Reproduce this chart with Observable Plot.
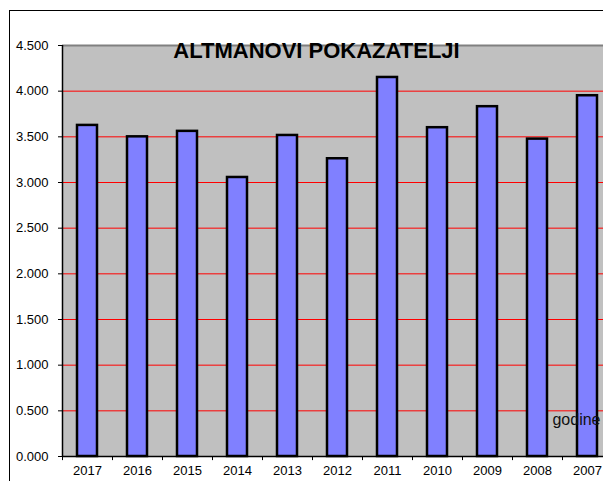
<!DOCTYPE html>
<html>
<head>
<meta charset="utf-8">
<script src="https://cdn.jsdelivr.net/npm/d3@7"></script>
<script src="https://cdn.jsdelivr.net/npm/@observablehq/plot@0.6"></script>
<style>
  html, body { margin: 0; padding: 0; background: #fff; }
  #wrap { position: relative; width: 603px; height: 481px; overflow: hidden; }
  #border { position: absolute; left: 9px; top: 10px; width: 700px; height: 600px;
            border-left: 1.5px solid #000; border-top: 1.5px solid #000; pointer-events: none; }
  svg { font-family: "Liberation Sans", Arial, sans-serif; }
</style>
</head>
<body>
<div id="wrap"><div id="border"></div></div>
<script>
const years  = ["2017","2016","2015","2014","2013","2012","2011","2010","2009","2008","2007"];
const values = [3.625, 3.50, 3.56, 3.055, 3.515, 3.26, 4.15, 3.60, 3.83, 3.475, 3.95];
const yTicks = [0, 0.5, 1, 1.5, 2, 2.5, 3, 3.5, 4, 4.5];
const gridLines = [0.5, 1, 1.5, 2, 2.5, 3, 3.5, 4];
const titleText = "ALTMANOVI POKAZATELJI";
const xLabel = "godine";

const data = years.map((y, i) => ({year: y, value: values[i]}));

const chart = Plot.plot({
  width: 603,
  height: 481,
  marginLeft: 62,
  marginTop: 45,
  marginBottom: 25,
  marginRight: 0,
  style: {fontFamily: "'Liberation Sans', Arial, sans-serif", fontSize: "13px", color: "#000", background: "transparent", overflow: "visible"},
  x: {domain: years, range: [62, 612], paddingInner: 0.6, paddingOuter: 0.3, label: null},
  y: {domain: [0, 4.5], range: [456, 45], label: null},
  marks: [
    Plot.frame({fill: "#c0c0c0", stroke: null}),
    Plot.ruleY(gridLines, {stroke: "#ff0000", strokeWidth: 1}),
    Plot.ruleY([4.5], {stroke: "#808080", strokeWidth: 2}),
    Plot.axisY({ticks: yTicks, tickFormat: d => d.toFixed(3), tickSize: 4, tickPadding: 10,
                stroke: "#000", fontSize: 13, letterSpacing: 0.5}),
    Plot.axisX({tickSize: 0, tickPadding: 9, fontSize: 13, letterSpacing: 0.5}),
    Plot.ruleX(years, {x: d => d, dx: -25, y1: 0, y2: -0.045, stroke: "#000", strokeWidth: 1}),
    Plot.barY(data, {x: "year", y: "value", fill: "#8080ff", stroke: "#000", strokeWidth: 2.5}),
    Plot.ruleY([0], {stroke: "#000", strokeWidth: 1.5}),
    Plot.ruleX([years[0]], {x: d => d, dx: -25, y1: 0, y2: 4.5, stroke: "#000", strokeWidth: 1.5}),
    Plot.text([titleText], {frameAnchor: "top", dx: -16.5, dy: 5.5, text: d => d, fontSize: 22,
               fontWeight: "bold", fill: "#000", lineAnchor: "middle", letterSpacing: 0.8}),
    Plot.text([xLabel], {frameAnchor: "bottom-right", dx: -3, dy: -36.5, text: d => d, fontSize: 16,
               textAnchor: "end", lineAnchor: "middle", fill: "#111"})
  ]
});
document.getElementById("wrap").insertBefore(chart, document.getElementById("border"));
chart.style.position = "absolute";
chart.style.left = "0px";
chart.style.top = "0px";
</script>
</body>
</html>
